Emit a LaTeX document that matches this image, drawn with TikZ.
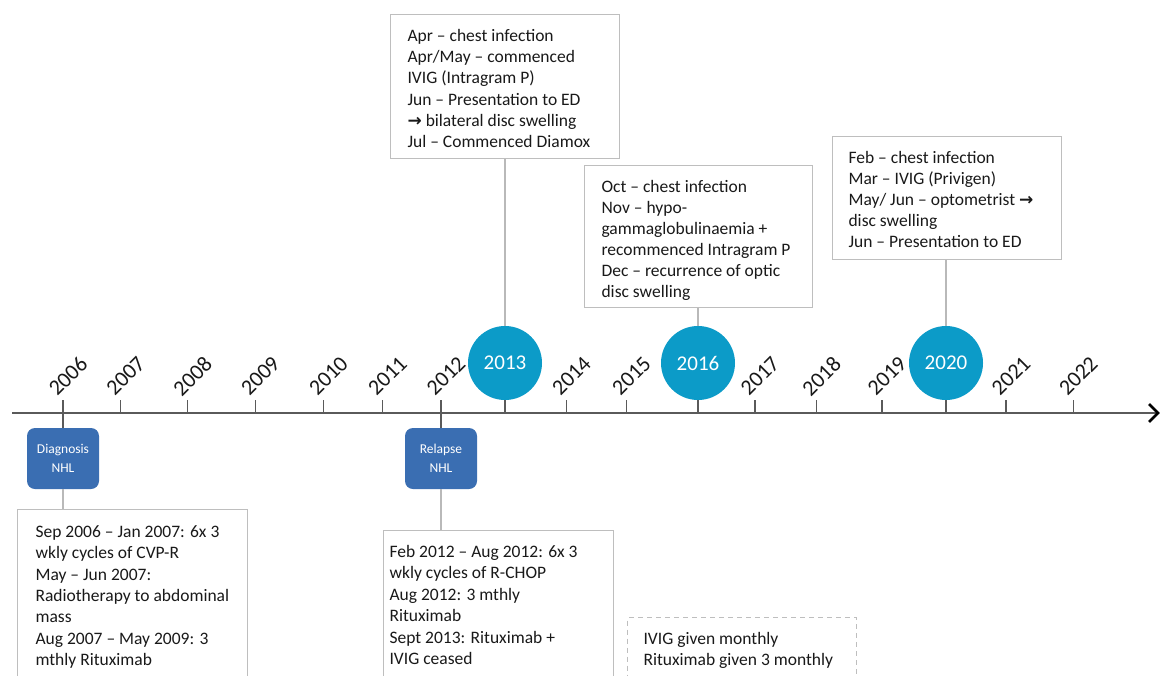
\documentclass[tikz,border=0pt]{standalone}
\usepackage{fontspec}
\setmainfont{Carlito}
\newfontfamily\symfont{DejaVu Sans}
\usetikzlibrary{calc}
\definecolor{circblue}{RGB}{12,155,200}
\definecolor{boxblue}{RGB}{58,110,178}
\definecolor{framegray}{RGB}{190,190,190}
\definecolor{conngray}{RGB}{185,185,185}
\definecolor{axisgray}{RGB}{90,90,90}
\definecolor{txtdark}{RGB}{25,25,25}
% #1 width, #2 height, #3 first baseline, #4 left pad, #5 line pitch, #6 lines
\newcommand\boxtext[6]{\vbox to #2{\hsize=#1\relax\fontsize{17.5pt}{#5}\selectfont
  \parindent=0pt\parskip=0pt\leftskip=#4\relax\rightskip=0pt plus 1fil\relax\parfillskip=0pt\relax
  \vskip\dimexpr#3-\baselineskip\relax\prevdepth=0pt\relax
  #6\par\vss}}
\newcommand\rarr{{\symfont\bfseries\fontsize{17pt}{17pt}\selectfont →}}
\begin{document}
\begin{tikzpicture}[x=1pt,y=-1pt,
  infobox/.style={draw=framegray, line width=1.1pt, fill=white, inner sep=0pt, anchor=north west, text=txtdark},
  dashbox/.style={draw=framegray, line width=1.1pt, dash pattern=on 5pt off 4pt, inner sep=0pt, anchor=north west, text=txtdark},
  bluebox/.style={fill=boxblue, rounded corners=8pt, minimum width=72pt, minimum height=61pt, inner sep=0pt,
    text=white, align=center, font=\fontsize{13.5pt}{19pt}\selectfont},
  yearcirc/.style={circle, fill=circblue, minimum size=74pt, inner sep=0pt, text=white,
    font=\fontsize{21pt}{21pt}\selectfont},
  yearlbl/.style={rotate=45, inner sep=0pt, text=txtdark, font=\fontsize{22pt}{22pt}\selectfont},
  tickline/.style={draw=axisgray, line width=1.3pt},
  conn/.style={draw=conngray, line width=1.2pt},
  axisline/.style={draw=axisgray, line width=2pt},
  chev/.style={draw=black, line width=2.6pt}
]
\useasboundingbox (0,0) rectangle (1161,675);
\fill[white] (0,0) rectangle (1161,675);

% axis
\coordinate (axstart) at (12,413);
\coordinate (axend) at (1158,413);
\draw[axisline] (axstart) -- (axend);
\draw[chev] ($(axend)+(-9,-9)$) -- (axend) -- ($(axend)+(-9,9)$);

% year positions on axis
\foreach \yr/\xx in {2006/63,2007/120.7,2008/187.5,2009/255.3,2010/323.4,2011/382.5,2012/441,
  2013/505,2014/566.4,2015/626.5,2016/698,2017/755,2018/816.4,2019/882,2020/946,2021/1006,2022/1073.3}{
  \coordinate (t\yr) at (\xx,413);
}
% ticks and labels for ordinary years
\foreach \yr in {2006,2007,2008,2009,2010,2011,2012,2014,2015,2017,2018,2019,2021,2022}{
  \draw[tickline] (t\yr) -- ++(0,-13);
  \node[yearlbl] (l\yr) at ($(t\yr)+(5,-37)$) {\yr};
}

% highlighted years
\node[yearcirc] (c2013) at (505,363) {2013};
\node[yearcirc] (c2016) at (698,363) {2016};
\node[yearcirc] (c2020) at (946,363) {2020};
\draw[tickline] (c2013.south) -- (t2013);
\draw[tickline] (c2016.south) -- (t2016);
\draw[tickline] (c2020.south) -- (t2020);

% blue event boxes
\node[bluebox] (diag) at (63,458.5) {Diagnosis\\NHL};
\node[bluebox] (relapse) at (441,458.5) {Relapse\\NHL};
\draw[tickline] ($(t2006)+(0,-13)$) -- (diag.north);
\draw[tickline] ($(t2012)+(0,-13)$) -- (relapse.north);

% upper boxes
\node[infobox] (boxA) at (390,14) {\boxtext{229pt}{144pt}{27pt}{17pt}{21.2pt}{%
Apr – chest infection\par
Apr/May – commenced\par
IVIG (Intragram P)\par
Jun – Presentation to ED\par
\rarr\ bilateral disc swelling\par
Jul – Commenced Diamox}};
\node[infobox] (boxB) at (584,165) {\boxtext{228pt}{142pt}{27pt}{17pt}{21pt}{%
Oct – chest infection\par
Nov – hypo-\par
gammaglobulinaemia +\par
recommenced Intragram P\par
Dec – recurrence of optic\par
disc swelling}};
\node[infobox] (boxC) at (832,136) {\boxtext{229pt}{123pt}{27pt}{16pt}{21pt}{%
Feb – chest infection\par
Mar – IVIG (Privigen)\par
May/ Jun – optometrist \rarr\par
disc swelling\par
Jun – Presentation to ED}};
\draw[conn] (boxA.south -| c2013.north) -- (c2013.north);
\draw[conn] (boxB.south -| c2016.north) -- (c2016.north);
\draw[conn] (boxC.south -| c2020.north) -- (c2020.north);

% lower boxes
\node[infobox] (box1) at (17,509) {\boxtext{230pt}{180pt}{28pt}{18pt}{21.3pt}{%
Sep 2006 – Jan 2007: 6x 3\par
wkly cycles of CVP-R\par
May – Jun 2007:\par
Radiotherapy to abdominal\par
mass\par
Aug 2007 – May 2009: 3\par
mthly Rituximab}};
\node[infobox] (box2) at (383,530) {\boxtext{230pt}{160pt}{26.5pt}{6pt}{21.5pt}{%
Feb 2012 – Aug 2012: 6x 3\par
wkly cycles of R-CHOP\par
Aug 2012: 3 mthly\par
Rituximab\par
Sept 2013: Rituximab +\par
IVIG ceased}};
\draw[conn] (diag.south) -- (diag.south |- box1.north);
\draw[conn] (relapse.south) -- (relapse.south |- box2.north);

% dashed note
\node[dashbox] (note) at (627,617) {\boxtext{229pt}{70pt}{27pt}{16pt}{21pt}{%
IVIG given monthly\par
Rituximab given 3 monthly}};
\end{tikzpicture}
\end{document}
